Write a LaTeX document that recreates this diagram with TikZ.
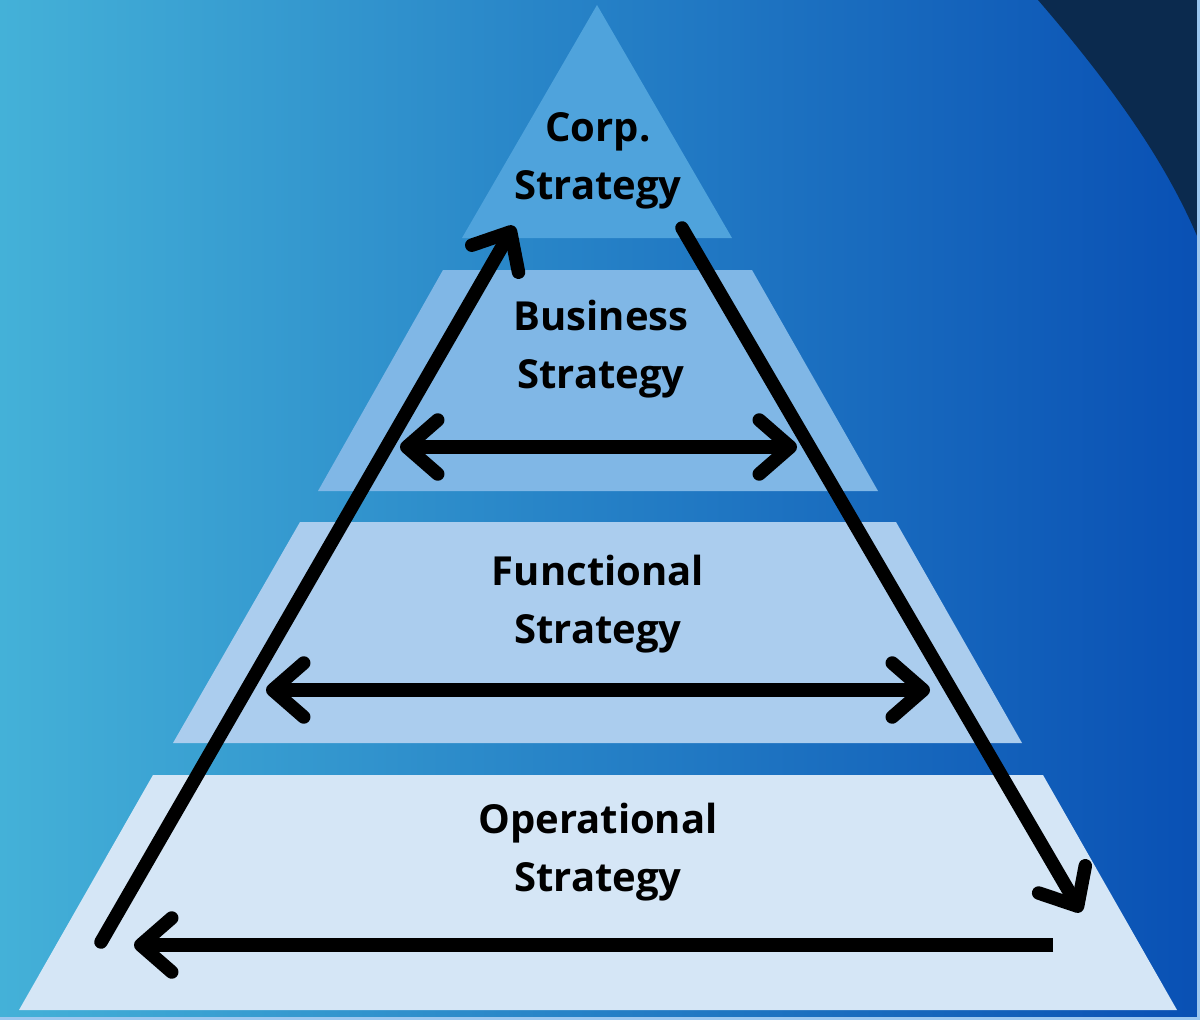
\documentclass[tikz,border=0pt]{standalone}
\usepackage{fontspec}
\setmainfont{Open Sans}
\usetikzlibrary{arrows.meta}
\definecolor{bgL}{HTML}{44B1D8}
\definecolor{bgM}{HTML}{2580C6}
\definecolor{bgR}{HTML}{0950B4}
\definecolor{navy}{HTML}{0B2A4E}
\definecolor{lvA}{HTML}{4FA3DC}
\definecolor{lvB}{HTML}{80B7E6}
\definecolor{lvC}{HTML}{ABCDEE}
\definecolor{lvD}{HTML}{D5E6F6}
\definecolor{edge}{HTML}{9CC7EF}
\pgfdeclarehorizontalshading{bgshade}{100bp}{color(0bp)=(bgL); color(25bp)=(bgL); color(50bp)=(bgM); color(75bp)=(bgR); color(100bp)=(bgR)}
\tikzset{
  lbl/.style={font=\fontsize{40}{58}\selectfont\bfseries, text=black, align=center, inner sep=0pt},
  arr/.style={line width=13.5pt, line cap=round, line join=round, draw=black},
  tipR/.style={-{Straight Barb[length=31pt,width=54pt,line cap=round,line join=round]}},
  tipB/.style={{Straight Barb[length=31pt,width=54pt,line cap=round,line join=round]}-{Straight Barb[length=31pt,width=54pt,line cap=round,line join=round]}}
}
\begin{document}
\begin{tikzpicture}[x=1pt,y=-1pt]
\useasboundingbox (0,0) rectangle (1200,1020);
\shade[shading=bgshade] (0,0) rectangle (1200,1020);
\fill[navy] (1038,0) .. controls (1120,95) and (1170,170) .. (1200,243) -- (1200,0) -- cycle;
\draw[edge, line width=2.5pt] (1198.5,0) -- (1198.5,1018.5) -- (0,1018.5);
% levels
\fill[lvA] (597,5) -- (732,238) -- (462,238) -- cycle;
\fill[lvB] (443,270) -- (752,270) -- (878,491) -- (318,491) -- cycle;
\fill[lvC] (300,522) -- (896,522) -- (1022,743) -- (173,743) -- cycle;
\fill[lvD] (153,775) -- (1043,775) -- (1177,1010) -- (19,1010) -- cycle;
% labels
\node[lbl] (corp) at (598,161) {Corp.\\Strategy};
\node[lbl] (bus) at (601,349) {Business\\Strategy};
\node[lbl] (func) at (598,604) {Functional\\Strategy};
\node[lbl] (oper) at (598,852) {Operational\\Strategy};
% arrow end points
\coordinate (upS) at (101,942);
\coordinate (upE) at (514,226);
\coordinate (dnS) at (682,228);
\coordinate (dnE) at (1081,912);
\coordinate (b1L) at (400,447);
\coordinate (b1R) at (797,447);
\coordinate (b2L) at (266,690);
\coordinate (b2R) at (930,690);
\coordinate (b3R) at (1053,945);
\coordinate (b3L) at (134,945);
% arrows
\draw[arr, tipR] (upS) -- (upE);
\draw[arr, tipR] (dnS) -- (dnE);
\draw[arr, tipB] (b1L) -- (b1R);
\draw[arr, tipB] (b2L) -- (b2R);
\draw[arr, tipR, line cap=butt] (b3R) -- (b3L);
\end{tikzpicture}
\end{document}
